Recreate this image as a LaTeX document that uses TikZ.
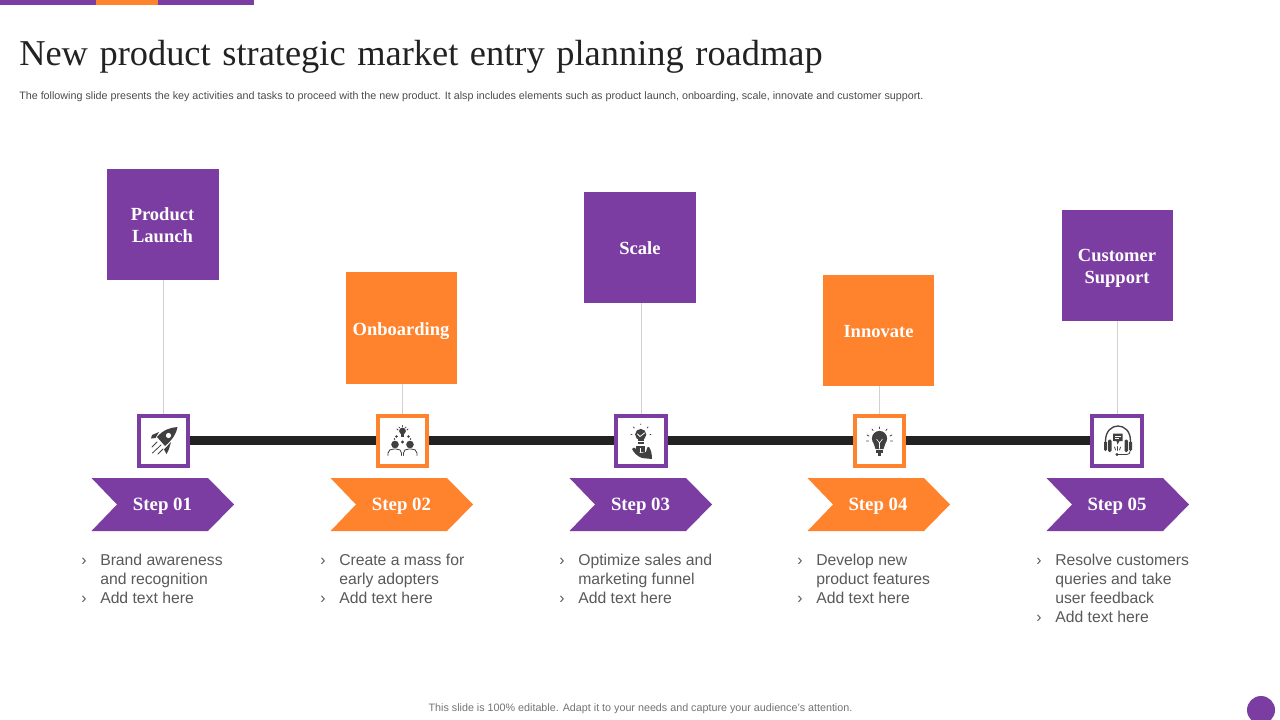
\documentclass[tikz,border=0pt]{standalone}
\usepackage{fontspec}
\setmainfont{Liberation Sans}
\newfontfamily\seriff{Liberation Serif}
\usetikzlibrary{calc}
\definecolor{pur}{HTML}{7B3DA2}
\definecolor{org}{HTML}{FF822D}
\definecolor{dk}{HTML}{222222}
\definecolor{ico}{HTML}{404040}
\definecolor{body}{HTML}{595959}
\tikzset{
  x=0.75pt,y=-0.75pt,
  headbox/.style={fill=#1,draw=none,minimum width=83.5pt,minimum height=83.5pt,inner sep=0pt},
  headtext/.style={inner sep=0pt,align=center,text=white,font=\seriff\bfseries\fontsize{13.9}{16.5}\selectfont},
  iconbox/.style={draw=#1,fill=white,line width=3pt,minimum width=37.25pt,minimum height=37.5pt,inner sep=0pt},
  steplabel/.style={text=white,inner sep=0pt,font=\seriff\bfseries\fontsize{14.1}{16}\selectfont},
  bullets/.style={anchor=north west,inner sep=0pt,align=left,text=body,font=\fontsize{11.8}{14.25}\selectfont},
  stem/.style={draw=black!18,line width=0.6pt},
  barline/.style={draw=dk,line width=6.75pt,transform canvas={yshift=0.4pt}},
  icl/.style={draw=ico,line width=0.6pt,fill=none,line cap=round},
  whl/.style={draw=white,line width=0.6pt,fill=none,line cap=round}
}
\newcommand{\bl}{\makebox[14.25pt][l]{›}}
\newcommand{\ind}{\hspace*{14.25pt}}
\begin{document}
\begin{tikzpicture}
\useasboundingbox (0,0) rectangle (1280,720);
\fill[white] (0,0) rectangle (1280,720);
% top bars
\fill[pur] (0,0) rectangle (96,5);
\fill[org] (96,0) rectangle (158,5);
\fill[pur] (158,0) rectangle (254,5);
% title
\node[anchor=west,inner sep=0pt,text=dk] (title) at (19,56.5) {\seriff\fontsize{27.3}{30}\selectfont\spaceskip=8.7pt New product strategic market entry planning roadmap};
\node[anchor=west,inner sep=0pt,text=black!70] (sub) at (19,97) {\fontsize{8.06}{9}\selectfont The following slide presents the key activities and tasks to proceed with the new product. It alsp includes elements such as product launch, onboarding, scale, innovate and customer support.};
% heads
\node[headbox=pur] (h1) at (163,224.5) {};
\node[headbox=org] (h2) at (401.5,328) {};
\node[headbox=pur] (h3) at (640,247.5) {};
\node[headbox=org] (h4) at (878.5,330.5) {};
\node[headbox=pur] (h5) at (1117.5,265.5) {};
\node[headtext] (t1) at (162.5,225) {Product\\Launch};
\node[headtext] (t2) at (401,331) {Onboarding};
\node[headtext] (t3) at (640,248) {Scale};
\node[headtext] (t4) at (878.5,332) {Innovate};
\node[headtext] (t5) at (1117,268.5) {Customer\\Support};
% icon boxes
\node[iconbox=pur] (i1) at (163.5,441) {};
\node[iconbox=org] (i2) at (402.5,441) {};
\node[iconbox=pur] (i3) at (641,441) {};
\node[iconbox=org] (i4) at (879.5,441) {};
\node[iconbox=pur] (i5) at (1117,441) {};
% connectors
\draw[barline] (i1) -- (i2);
\draw[barline] (i2) -- (i3);
\draw[barline] (i3) -- (i4);
\draw[barline] (i4) -- (i5);
\draw[stem] (h1.south -| i1) -- (i1.north);
\draw[stem] (h2.south -| i2) -- (i2.north);
\draw[stem] (h3.south -| i3) -- (i3.north);
\draw[stem] (h4.south -| i4) -- (i4.north);
\draw[stem] (h5.south -| i5) -- (i5.north);
% rocket
\fill[ico] (177.5,427) .. controls (170,427.5) and (163,430) .. (157,437) -- (165,446) .. controls (172,440) and (176.5,434) .. (177.5,427) -- cycle;
\fill[ico] (159,432) -- (152,435) -- (151,438.5) -- (155.5,438) -- cycle;
\fill[ico] (171,442) -- (169,449) -- (166.5,454) -- (164,449.5) -- cycle;
\fill[white] (168.5,435.5) circle (2.6);
\draw[icl] (157,442) -- (152,447);
\draw[icl] (161,445) -- (152.5,453);
\draw[icl] (163,449) -- (158,454);
% people
\fill[ico] (402.5,431) circle (3.4);
\fill[ico] (401,434) rectangle (404,437);
\draw[icl] (397,429) -- (398,430) (402.5,425.5) -- (402.5,426.5) (408,429) -- (407,430) (399,427) -- (399.5,427.8) (406,427) -- (405.5,427.8);
\fill[ico] (395,444.5) circle (3.8);
\fill[ico] (410,444.5) circle (3.8);
\fill[ico] (396.5,436.5) circle (1.3);
\fill[ico] (408.5,436.5) circle (1.3);
\fill[ico] (394.5,439) circle (.9);
\fill[ico] (410.5,439) circle (.9);
\fill[ico] (402.5,442) circle (1.6);
\draw[icl] (388,455.5) -- (388,453) .. controls (388,450) and (391,449) .. (394,449) -- (396,449) .. controls (399,449) and (401.5,450) .. (401.5,453) -- (401.5,455.5);
\draw[icl] (403.5,455.5) -- (403.5,453) .. controls (403.5,450) and (406,449) .. (409,449) -- (411,449) .. controls (414,449) and (417,450) .. (417,453) -- (417,455.5);
% scale
\fill[ico] (640.7,434.5) circle (5.6);
\fill[ico] (637.5,439) rectangle (644,444);
\draw[whl] (637.5,434) -- (640,436.5) -- (644.5,433);
\draw[whl] (637.5,441.5) -- (644,441.5);
\draw[icl] (640.7,424) -- (640.7,424.6) (633.5,427) -- (634.3,428) (648,427) -- (647.2,428) (631,434.5) -- (632,434.5) (651,434.5) -- (650,434.5);
\fill[ico] (636,445.5) rectangle (645,452);
\fill[ico] (632,449) .. controls (633,447) and (635,447) .. (636,449) -- (640,453) -- (646,452) .. controls (647,447) and (648,446) .. (649,447) .. controls (651,450) and (652,454) .. (652,459) -- (642,458) .. controls (637,456) and (634,453) .. (632,449) -- cycle;
\fill[white] (639.5,447.5) rectangle (641,451.5);
% bulb
\fill[ico] (879.5,438.5) circle (7.6);
\fill[ico] (873.5,443) -- (885.5,443) -- (883.5,449) -- (875.5,449) -- cycle;
\fill[ico] (876,449.7) rectangle (883,452.5);
\fill[ico] (878,452.5) rectangle (881,456);
\draw[white,line width=.4pt] (876.5,439) -- (879.5,443) -- (882.5,439) (879.5,443) -- (879.5,448.5);
\draw[icl] (879.5,427) -- (879.5,428.5) (872,429) -- (873,430.5) (887,429) -- (886,430.5) (867,435) -- (869,436) (892,435) -- (890,436) (866.5,441) -- (868.5,441) (892.5,441) -- (890.5,441);
% headset
\draw[ico,line width=1pt] (1105.5,441) .. controls (1105.5,421) and (1130.5,421) .. (1130.5,441);
\fill[ico,rounded corners=1pt] (1104,441) rectangle (1107,451);
\fill[ico,rounded corners=1pt] (1108,439.5) rectangle (1111.5,452);
\fill[ico,rounded corners=1pt] (1129,441) rectangle (1132,451);
\fill[ico,rounded corners=1pt] (1124.5,439.5) rectangle (1128,452);
\fill[ico] (1113,433.5) -- (1122.5,433.5) -- (1122.5,441) -- (1119.5,441) -- (1117.5,444.5) -- (1116.5,441) -- (1113,441) -- cycle;
\draw[white,line width=.5pt] (1115,436) -- (1120.5,436) (1115,438.5) -- (1119,438.5);
\draw[icl] (1130,451.5) .. controls (1130,453) and (1129,454.5) .. (1127,454.5) -- (1117.5,454.5);
\fill[ico] (1117,454.5) circle (1.7);
\draw[icl] (1114.5,447) -- (1115.5,450) (1117.5,446.5) -- (1117.5,450.5) (1120.5,447) -- (1119.5,450);
% chevrons
\fill[pur] (91.5,478) -- (208,478) -- (234,504.5) -- (208,531) -- (91.5,531) -- (117,504.5) -- cycle;
\fill[org] (330.5,478) -- (447,478) -- (473,504.5) -- (447,531) -- (330.5,531) -- (356,504.5) -- cycle;
\fill[pur] (569.5,478) -- (686,478) -- (712,504.5) -- (686,531) -- (569.5,531) -- (595,504.5) -- cycle;
\fill[org] (807.5,478) -- (924,478) -- (950,504.5) -- (924,531) -- (807.5,531) -- (833,504.5) -- cycle;
\fill[pur] (1046.5,478) -- (1163,478) -- (1189,504.5) -- (1163,531) -- (1046.5,531) -- (1072,504.5) -- cycle;
\node[steplabel] (s1) at (162.5,506.5) {Step 01};
\node[steplabel] (s2) at (401.5,506.5) {Step 02};
\node[steplabel] (s3) at (640.5,506.5) {Step 03};
\node[steplabel] (s4) at (878,506.5) {Step 04};
\node[steplabel] (s5) at (1117,506.5) {Step 05};
% bullets
\node[bullets] (b1) at (81,554) {\bl Brand awareness\\\ind and recognition\\\bl Add text here};
\node[bullets] (b2) at (320,554) {\bl Create a mass for\\\ind early adopters\\\bl Add text here};
\node[bullets] (b3) at (559,554) {\bl Optimize sales and\\\ind marketing funnel\\\bl Add text here};
\node[bullets] (b4) at (797,554) {\bl Develop new\\\ind product features\\\bl Add text here};
\node[bullets] (b5) at (1036,554) {\bl Resolve customers\\\ind queries and take\\\ind user feedback\\\bl Add text here};
% footer
\node[inner sep=0pt,text=black!55] (foot) at (640.5,709) {\fontsize{8.06}{9}\selectfont This slide is 100\% editable. Adapt it to your needs and capture your audience's attention.};
\fill[pur] (1261,710) circle (14);
\end{tikzpicture}
\end{document}
